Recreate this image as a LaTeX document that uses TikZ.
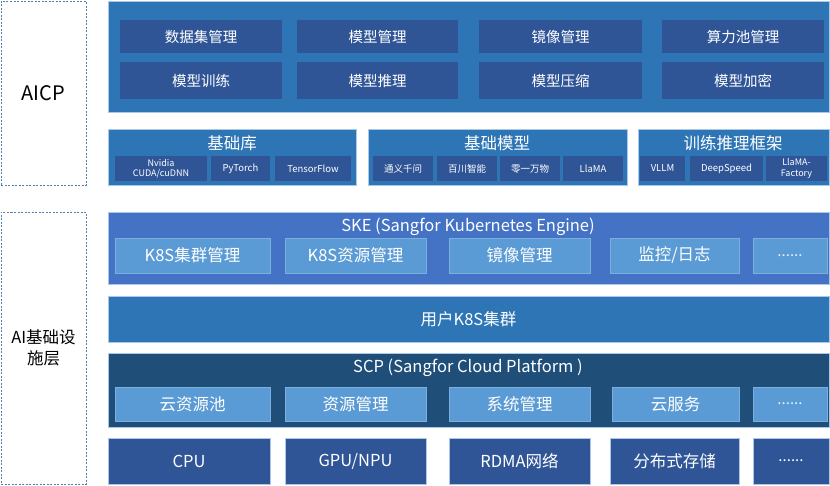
\documentclass[tikz,border=0pt]{standalone}
\usepackage{fontspec}
\setmainfont{Noto Sans CJK SC}
\definecolor{cMid}{HTML}{2E75B6}
\definecolor{cDark}{HTML}{2F5597}
\definecolor{cSke}{HTML}{4472C4}
\definecolor{cLight}{HTML}{5B9BD5}
\definecolor{cScp}{HTML}{1F4E79}
\definecolor{cEdge}{HTML}{A9C8EA}
\definecolor{cDash}{HTML}{5580AA}
\newcommand{\boxat}[7]{\node[#1,minimum width={#4-#2},minimum height={#5-#3}] (#6) at ({(#2+#4)/2},{(#3+#5)/2}) {#7};}
\tikzset{
  base/.style={rectangle,inner sep=0pt,outer sep=0pt,text=white,align=center},
  panel/.style={base,draw=cEdge,line width=0.8pt},
  dashbox/.style={rectangle,inner sep=0pt,draw=cDash,line width=0.8pt,dash pattern=on 2pt off 1.5pt,text=black,align=center},
  darkbox/.style={base,fill=cDark},
  lightbox/.style={base,fill=cLight,draw=cLight!80!white,line width=0.5pt},
  bigtxt/.style={font=\fontsize{14.5}{17}\selectfont},
  midtxt/.style={font=\fontsize{16.5}{19}\selectfont},
  smalltxt/.style={font=\fontsize{9.5}{11}\selectfont},
  tinytxt/.style={font=\fontsize{9}{10.5}\selectfont},
  dotstxt/.style={font=\fontsize{15}{17}\selectfont},
}
\begin{document}
\begin{tikzpicture}[x=1pt,y=-1pt]
\useasboundingbox (0,0) rectangle (830,485);
% left dashed boxes
\boxat{dashbox,font=\fontsize{20}{23}\selectfont}{1}{1}{86}{185}{aicp}{AICP}
\boxat{dashbox,font=\fontsize{16.5}{21}\selectfont}{1}{212}{86}{484}{infra}{AI基础设\\施层}
% AICP top panel
\boxat{panel,fill=cMid}{108}{1}{829}{112}{toppanel}{}
\boxat{darkbox,bigtxt}{120}{20}{282}{53}{t11}{数据集管理}
\boxat{darkbox,bigtxt}{297}{20}{458}{53}{t12}{模型管理}
\boxat{darkbox,bigtxt}{479}{20}{642}{53}{t13}{镜像管理}
\boxat{darkbox,bigtxt}{662}{20}{824}{53}{t14}{算力池管理}
\boxat{darkbox,bigtxt}{120}{62}{282}{99}{t21}{模型训练}
\boxat{darkbox,bigtxt}{297}{62}{458}{99}{t22}{模型推理}
\boxat{darkbox,bigtxt}{479}{62}{642}{99}{t23}{模型压缩}
\boxat{darkbox,bigtxt}{662}{62}{824}{99}{t24}{模型加密}
% second row panels
\boxat{panel,fill=cMid}{108}{129}{356}{185}{libp}{}
\node[base,midtxt] (libt) at (232,143) {基础库};
\boxat{darkbox,tinytxt}{115}{156}{207}{181}{lib1}{Nvidia\\CUDA/cuDNN}
\boxat{darkbox,smalltxt}{211}{156}{270}{181}{lib2}{PyTorch}
\boxat{darkbox,smalltxt}{275}{156}{351}{181}{lib3}{TensorFlow}
\boxat{panel,fill=cMid}{368}{129}{627}{185}{modp}{}
\node[base,midtxt] (modt) at (497,143) {基础模型};
\boxat{darkbox,smalltxt}{373}{156}{433}{181}{mod1}{通义千问}
\boxat{darkbox,smalltxt}{437}{156}{497}{181}{mod2}{百川智能}
\boxat{darkbox,smalltxt}{500}{156}{560}{181}{mod3}{零一万物}
\boxat{darkbox,smalltxt}{563}{156}{623}{181}{mod4}{LlaMA}
\boxat{panel,fill=cMid}{638}{129}{829}{185}{frp}{}
\node[base,midtxt] (frt) at (733,143) {训练推理框架};
\boxat{darkbox,smalltxt}{640}{156}{685}{181}{fr1}{VLLM}
\boxat{darkbox,smalltxt}{690}{156}{763}{181}{fr2}{DeepSpeed}
\boxat{darkbox,tinytxt}{766}{156}{827}{181}{fr3}{LlaMA-\\Factory}
% SKE
\boxat{panel,fill=cSke}{108}{212}{829}{284}{skep}{}
\node[base,midtxt] (sket) at (468,227) {SKE (Sangfor Kubernetes Engine)};
\boxat{lightbox,midtxt}{115}{238}{270}{273}{ske1}{K8S集群管理}
\boxat{lightbox,midtxt}{285}{238}{426}{273}{ske2}{K8S资源管理}
\boxat{lightbox,midtxt}{449}{238}{590}{273}{ske3}{镜像管理}
\boxat{lightbox,midtxt}{610}{238}{739}{273}{ske4}{监控/日志}
\boxat{lightbox,dotstxt,text=white!85!cLight}{753}{238}{827}{273}{ske5}{......}
% user K8S
\boxat{panel,fill=cMid,midtxt}{108}{296}{829}{342}{userk}{用户K8S集群}
% SCP
\boxat{panel,fill=cScp}{108}{353}{829}{427}{scpp}{}
\node[base,midtxt] (scpt) at (468,368) {SCP (Sangfor Cloud Platform )};
\boxat{lightbox,midtxt}{115}{387}{270}{421}{scp1}{云资源池}
\boxat{lightbox,midtxt}{285}{387}{426}{421}{scp2}{资源管理}
\boxat{lightbox,midtxt}{449}{387}{590}{421}{scp3}{系统管理}
\boxat{lightbox,midtxt}{612}{387}{739}{421}{scp4}{云服务}
\boxat{lightbox,dotstxt,text=white!85!cLight}{753}{387}{827}{421}{scp5}{......}
% hardware
\boxat{panel,fill=cDark,midtxt}{108}{438}{270}{484}{hw1}{CPU}
\boxat{panel,fill=cDark,midtxt}{285}{438}{426}{484}{hw2}{GPU/NPU}
\boxat{panel,fill=cDark,midtxt}{449}{438}{590}{484}{hw3}{RDMA网络}
\boxat{panel,fill=cDark,midtxt}{610}{438}{739}{484}{hw4}{分布式存储}
\boxat{panel,fill=cDark,dotstxt}{753}{438}{829}{484}{hw5}{......}
\end{tikzpicture}
\end{document}
